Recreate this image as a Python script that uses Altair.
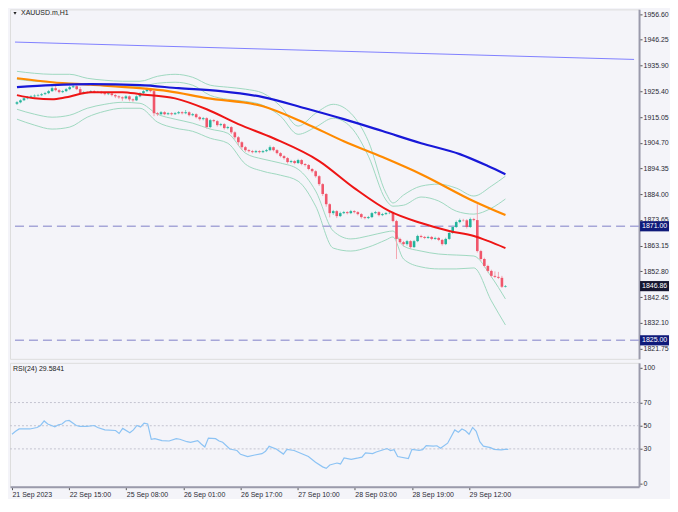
import altair as alt
import pandas as pd

# ---------------- data ----------------
bar_open = [1920.4,1921.0,1921.8,1922.6,1923.0,1923.4,1923.7,1923.9,1924.3,1924.7,
1925.5,1926.7,1925.9,1925.1,1925.5,1926.3,1927.1,1927.5,1926.3,1924.7,
1925.1,1925.0,1925.5,1925.1,1925.2,1924.7,1924.3,1924.6,1923.9,1923.4,
1923.0,1922.6,1923.4,1922.2,1921.8,1923.4,1924.7,1925.5,1926.3,1925.5,
1916.6,1916.2,1917.0,1916.2,1916.6,1916.2,1916.6,1917.0,1916.6,1917.0,
1915.8,1916.2,1915.0,1914.2,1914.6,1911.0,1913.8,1913.4,1911.8,1912.2,
1910.6,1911.0,1908.9,1906.9,1904.9,1902.9,1901.7,1901.3,1900.9,1901.3,
1900.9,1901.3,1901.7,1902.9,1901.7,1900.5,1899.3,1898.5,1896.9,1897.3,
1896.5,1897.7,1896.1,1895.7,1894.1,1893.2,1891.2,1888.0,1884.0,1879.9,
1876.3,1877.1,1875.1,1876.3,1876.7,1876.3,1877.1,1876.7,1875.9,1874.7,
1874.3,1874.7,1876.3,1876.7,1875.5,1875.9,1876.3,1876.4,1873.1,1865.9,
1864.6,1863.8,1865.0,1862.6,1865.0,1867.1,1866.7,1866.3,1866.7,1865.9,
1866.3,1865.5,1863.8,1865.9,1868.3,1870.7,1872.7,1873.5,1873.4,1870.7,
1873.9,1873.5,1861.0,1857.8,1855.0,1853.0,1851.0,1850.6,1850.2,1846.6]

bar_close = [1921.0,1921.8,1922.6,1923.0,1923.4,1923.7,1923.9,1924.3,1924.7,1925.5,
1926.7,1925.9,1925.1,1925.5,1926.3,1927.1,1927.5,1926.3,1924.7,1925.1,
1925.0,1925.5,1925.1,1925.2,1924.7,1924.3,1924.6,1923.9,1923.4,1923.0,
1922.6,1923.4,1922.2,1921.8,1923.4,1924.7,1925.5,1926.3,1925.5,1916.6,
1916.2,1917.0,1916.2,1916.6,1916.2,1916.6,1917.0,1916.6,1917.0,1915.8,
1916.2,1915.0,1914.2,1914.6,1911.0,1913.8,1913.4,1911.8,1912.2,1910.6,
1911.0,1908.9,1906.9,1904.9,1902.9,1901.7,1901.3,1900.9,1901.3,1900.9,
1901.3,1901.7,1902.9,1901.7,1900.5,1899.3,1898.5,1896.9,1897.3,1896.5,
1897.7,1896.1,1895.7,1894.1,1893.2,1891.2,1888.0,1884.0,1879.9,1876.3,
1877.1,1875.1,1876.3,1876.7,1876.3,1877.1,1876.7,1875.9,1874.7,1874.3,
1874.7,1876.3,1876.7,1875.5,1875.9,1876.3,1876.4,1873.1,1865.9,1864.6,
1863.8,1865.0,1862.6,1865.0,1867.1,1866.7,1866.3,1866.7,1865.9,1866.3,
1865.5,1863.8,1865.9,1868.3,1870.7,1872.7,1873.5,1873.4,1870.7,1873.9,
1873.5,1861.0,1857.8,1855.0,1853.0,1851.0,1850.6,1850.2,1846.6,1846.86]

bar_high = [1921.5,1922.2,1923.0,1923.5,1923.9,1924.2,1924.4,1924.8,1925.2,1926.0,
1927.4,1928.3,1926.4,1926.0,1926.8,1927.6,1928.4,1927.9,1927.2,1925.6,
1925.5,1925.9,1925.9,1925.6,1925.6,1925.1,1925.0,1925.0,1924.3,1923.8,
1923.4,1923.9,1923.8,1922.6,1923.8,1925.1,1925.9,1926.9,1926.8,1926.0,
1917.1,1917.5,1917.4,1917.0,1917.0,1917.1,1917.5,1917.4,1917.9,1917.4,
1916.7,1916.6,1915.4,1915.1,1915.0,1914.3,1914.2,1913.8,1912.7,1912.6,
1911.5,1911.4,1909.3,1907.4,1905.3,1903.4,1902.1,1901.8,1901.8,1901.7,
1901.8,1902.2,1903.6,1903.2,1902.1,1900.9,1899.7,1898.9,1897.8,1897.7,
1898.2,1898.1,1896.5,1896.1,1894.5,1893.6,1891.6,1888.4,1884.4,1880.3,
1877.6,1877.5,1876.9,1877.2,1877.1,1877.6,1877.5,1877.1,1876.3,1875.1,
1875.2,1876.8,1877.2,1877.1,1876.4,1876.8,1876.9,1876.9,1873.6,1866.4,
1865.1,1865.5,1865.4,1865.5,1867.6,1867.6,1867.1,1867.2,1867.1,1866.8,
1866.7,1865.9,1866.4,1868.8,1871.2,1873.3,1874.1,1874.0,1873.9,1874.5,
1874.4,1879.9,1861.5,1858.3,1855.5,1853.5,1852.8,1852.6,1851.0,1847.3]

bar_low = [1919.9,1920.6,1921.5,1922.2,1922.6,1923.0,1923.3,1923.5,1923.9,1924.3,
1925.2,1925.4,1924.6,1924.7,1925.1,1925.9,1926.8,1925.9,1924.2,1924.3,
1924.6,1924.7,1924.7,1924.8,1924.3,1923.8,1923.9,1923.4,1922.7,1922.4,
1921.6,1922.2,1921.4,1921.2,1921.5,1923.0,1924.3,1925.1,1925.0,1915.4,
1915.5,1915.8,1915.8,1915.8,1915.7,1915.9,1916.2,1916.1,1916.2,1915.3,
1915.4,1914.5,1913.6,1913.7,1910.4,1910.6,1912.9,1911.2,1911.3,1910.0,
1910.1,1908.2,1906.0,1903.6,1901.9,1901.0,1900.8,1900.4,1900.5,1900.4,
1900.5,1900.9,1901.3,1901.2,1900.0,1898.8,1897.9,1896.3,1896.4,1896.0,
1896.1,1895.6,1895.1,1893.6,1892.6,1890.6,1887.3,1883.2,1878.9,1874.6,
1875.6,1874.3,1874.7,1875.9,1875.8,1875.9,1876.2,1875.4,1874.1,1873.8,
1873.9,1874.3,1875.9,1875.0,1875.1,1875.5,1875.9,1872.6,1857.8,1864.0,
1863.0,1863.2,1862.0,1862.2,1864.6,1866.2,1865.8,1865.9,1865.4,1865.5,
1865.0,1863.2,1863.4,1865.5,1867.9,1870.3,1872.2,1872.9,1870.1,1870.3,
1873.0,1860.4,1857.1,1854.4,1852.4,1850.4,1850.1,1849.7,1846.1,1846.3]

ma_blue_idx = [0, 10, 21, 35, 46, 58, 70, 82, 93, 104, 115, 126, 134, 139]
ma_blue = [1927.1, 1927.9, 1928.3, 1927.9, 1926.7, 1925.5, 1923.1, 1918.6, 1914.2,
           1909.4, 1904.5, 1900.1, 1895.3, 1892.0]

ma_orange_idx = [0, 10, 21, 35, 43, 54, 70, 82, 93, 104, 115, 130, 139]
ma_orange = [1930.7, 1929.1, 1928.1, 1926.7, 1925.5, 1922.7, 1919.4, 1912.6, 1905.3,
             1898.9, 1892.0, 1881.1, 1875.5]

ma_red_idx = [0, 5, 10, 14, 21, 30, 35, 45, 54, 63, 73, 86, 96, 106, 115, 123, 130, 134, 139]
ma_red = [1923.9, 1922.6, 1922.2, 1923.0, 1925.1, 1925.1, 1924.3, 1922.6, 1918.2, 1912.2,
          1906.5, 1897.3, 1886.4, 1877.1, 1872.3, 1869.1, 1867.1, 1865.1, 1862.2]

bb_idx = [0, 5, 10, 15, 20, 25, 30, 35, 40, 45, 50, 55, 60, 65, 70, 75, 80, 85, 90, 95,
          100, 105, 107, 110, 115, 120, 125, 130, 135, 139]
bb_upper_outer = [1933.5, 1932.7, 1932.3, 1932.3, 1930.7, 1929.9, 1929.5, 1929.5, 1931.5, 1932.3,
                  1931.1, 1927.9, 1927.1, 1926.3, 1924.7, 1919.4, 1911.4, 1916.6, 1920.2, 1916.6,
                  1905.3, 1884.4, 1880.4, 1883.6, 1887.2, 1888.0, 1886.4, 1883.2, 1887.2, 1891.2]
bb_upper_inner = [1930.3, 1929.5, 1929.1, 1928.7, 1928.3, 1927.9, 1927.5, 1927.5, 1928.7, 1929.1,
                  1927.9, 1923.8, 1922.2, 1921.4, 1919.8, 1915.4, 1908.1, 1911.0, 1914.6, 1911.0,
                  1899.3, 1881.6, 1879.1, 1879.5, 1882.8, 1881.2, 1877.1, 1875.9, 1878.3, 1882.0]
bb_lower_inner = [1918.2, 1916.2, 1915.0, 1915.8, 1918.6, 1920.2, 1921.0, 1920.6, 1916.2, 1914.2,
                  1912.6, 1910.2, 1908.5, 1900.5, 1898.1, 1896.5, 1894.0, 1885.2, 1869.1, 1865.9,
                  1867.1, 1868.7, 1869.1, 1863.0, 1861.0, 1859.8, 1859.4, 1859.0, 1850.6, 1841.7]
bb_lower_outer = [1914.2, 1911.8, 1910.2, 1911.0, 1915.0, 1917.4, 1918.6, 1918.6, 1913.0, 1910.6,
                  1909.3, 1906.5, 1904.5, 1896.1, 1893.2, 1891.6, 1889.2, 1879.1, 1862.2, 1861.0,
                  1862.6, 1865.5, 1866.7, 1857.8, 1854.6, 1853.8, 1853.8, 1854.2, 1840.9, 1831.2]

trend_idx = [-0.56, 175.6]
trend_val = [1945.3, 1938.3]

hline_levels = [1871.0, 1825.0]
price_tags = [1871.0, 1846.86, 1825.0]
price_tag_text = ["1871.00", "1846.86", "1825.00"]
price_tag_bg = ["#0f1a7a", "#161630", "#0f1a7a"]

price_ticks = [1956.60, 1946.25, 1935.90, 1925.40, 1915.05, 1904.70, 1894.35, 1884.00,
               1873.65, 1863.15, 1852.80, 1842.45, 1832.10, 1821.75]

rsi_idx = [0,1,2,5,7,8,9,10,12,13,14,15,16,18,19,21,23,24,26,29,30,31,33,34,35,36,37,38,39,40,
           42,44,46,47,49,50,52,53,54,55,57,58,59,61,63,64,66,68,70,71,72,74,76,77,79,81,83,85,
           87,88,89,91,92,93,95,97,98,99,101,102,104,105,106,107,108,111,112,114,115,116,118,
           119,120,122,124,125,126,127,128,129,130,131,132,134,135,137,138,139]
rsi_val = [42.6,45.2,47.2,47.2,48.5,50.2,54.1,51.5,49.0,50.8,51.5,54.1,54.6,50.2,49.5,49.5,50.2,
           48.5,46.4,45.9,43.3,47.7,43.9,46.4,50.2,48.9,52.3,51.5,38.3,38.8,37.2,36.8,38.8,38.3,
           36.2,35.7,37.2,34.2,31.6,39.3,38.8,36.8,35.7,29.9,28.6,25.3,23.4,24.7,25.9,27.9,32.2,
           29.9,25.5,29.6,28.6,26.0,23.4,18.4,14.5,13.2,16.1,17.8,17.0,22.2,21.0,22.2,22.9,26.5,
           26.0,27.3,29.3,30.3,28.6,29.3,23.4,21.7,29.6,28.8,29.4,32.9,32.4,32.7,30.6,34.9,46.4,
           44.4,47.2,45.7,42.6,48.5,45.2,36.2,32.4,31.1,29.6,29.1,29.6,29.58]
rsi_levels = [30, 50, 70]
rsi_ticks = [0, 30, 50, 70, 100]

date_ticks = [0, 16, 32, 48, 64, 80, 96, 112, 128]
date_labels = ["21 Sep 2023", "22 Sep 15:00", "25 Sep 08:00", "26 Sep 01:00", "26 Sep 17:00",
               "27 Sep 10:00", "28 Sep 03:00", "28 Sep 19:00", "29 Sep 12:00"]

# ---------------- styling ----------------
FONT = "Liberation Sans"
BG = "#f4f4f9"
FRAME = "#9a9aab"
UP, DN = "#22b39b", "#f0566b"
UP_W, DN_W = "#86d3c4", "#f4a6b1"
W, H_MAIN, H_RSI = 630, 350, 124

xscale = alt.Scale(domain=[-0.56, 175.6], nice=False, zero=False)
yscale = alt.Scale(domain=[1817.53, 1958.49], nice=False, zero=False)
rscale = alt.Scale(domain=[-2.6, 104.3], nice=False, zero=False)

yaxis = alt.Axis(orient="right", values=price_ticks, format=".2f", title=None, grid=False,
                 labelFontSize=7, labelColor="#2a2a35", tickSize=3, tickColor="#555",
                 labelPadding=1, domainColor=FRAME, domainWidth=2, labelFont=FONT)
raxis = alt.Axis(orient="right", values=rsi_ticks, format="d", title=None, grid=False,
                 labelFontSize=7, labelColor="#2a2a35", tickSize=3, tickColor="#555",
                 labelPadding=1, domainColor=FRAME, domainWidth=2, labelFont=FONT)
expr = " : ".join(f"datum.value == {t} ? '{l}'" for t, l in zip(date_ticks, date_labels)) + " : ''"
xaxis = alt.Axis(values=date_ticks, labelExpr=expr, labelAlign="left", title=None, grid=False,
                 labelFontSize=7, labelColor="#2a2a35", tickSize=3, tickColor="#555",
                 labelPadding=1, domainColor=FRAME, domainWidth=2, labelFont=FONT,
                 labelOverlap=False)

X = alt.X("i:Q", scale=xscale, axis=None)

candles = pd.DataFrame({"i": list(range(len(bar_close))), "open": bar_open, "high": bar_high,
                        "low": bar_low, "close": bar_close})

up_cond = "datum.close >= datum.open"

wicks = alt.Chart(candles).mark_rule(strokeWidth=1).encode(
    x=X, y=alt.Y("low:Q", scale=yscale, axis=yaxis), y2="high:Q",
    color=alt.condition(up_cond, alt.value(UP_W), alt.value(DN_W)))
bodies = alt.Chart(candles).mark_bar(size=2.6).encode(
    x=X, y=alt.Y("open:Q", scale=yscale, axis=yaxis), y2="close:Q",
    color=alt.condition(up_cond, alt.value(UP), alt.value(DN)))


def line_layer(idx, vals, color, width, interp="monotone"):
    df = pd.DataFrame({"i": idx, "v": vals})
    return alt.Chart(df).mark_line(color=color, strokeWidth=width, interpolate=interp, clip=True).encode(
        x=X, y=alt.Y("v:Q", scale=yscale, axis=yaxis))


band_layers = [line_layer(bb_idx, s, "#9fd8c0", 1)
               for s in (bb_upper_outer, bb_upper_inner, bb_lower_inner, bb_lower_outer)]

trend = line_layer(trend_idx, trend_val, "#7f7fff", 1, "linear")
blue = line_layer(ma_blue_idx, ma_blue, "#1818d8", 2.2)
orange = line_layer(ma_orange_idx, ma_orange, "#ff8a00", 2.2)
red = line_layer(ma_red_idx, ma_red, "#ee1515", 2)

hlines = alt.Chart(pd.DataFrame({"p": hline_levels})).mark_rule(
    color="#a6a6d8", strokeWidth=1.6, strokeDash=[9, 5]).encode(
    y=alt.Y("p:Q", scale=yscale, axis=yaxis))

tags = pd.DataFrame({"p": price_tags, "t": price_tag_text, "bg": price_tag_bg})
tag_box = alt.Chart(tags).transform_calculate(top="datum.p + 2.05", bot="datum.p - 2.05").mark_rect().encode(
    x=alt.value(W + 1), x2=alt.value(W + 30),
    y=alt.Y("top:Q", scale=yscale, axis=yaxis), y2="bot:Q",
    color=alt.Color("bg:N", scale=None))
tag_txt = alt.Chart(tags).mark_text(align="left", baseline="middle", fontSize=7, color="white",
                                    font=FONT).encode(
    x=alt.value(W + 3), y=alt.Y("p:Q", scale=yscale, axis=yaxis), text="t:N")

title_df = pd.DataFrame({"t": ["XAUUSD.m,H1"]})
title_txt = alt.Chart(title_df).mark_text(align="left", baseline="middle", fontSize=7,
                                          color="#222", font=FONT).encode(
    x=alt.value(11), y=alt.value(4), text="t:N")
title_tri = alt.Chart(title_df).mark_point(shape="triangle-down", filled=True, size=10,
                                           color="#222", opacity=1).encode(
    x=alt.value(5), y=alt.value(4))

main = alt.layer(trend, *band_layers, hlines, wicks, bodies, orange, blue, red,
                 tag_box, tag_txt, title_tri, title_txt).properties(width=W, height=H_MAIN)

# ---------------- RSI panel ----------------
XR = alt.X("i:Q", scale=xscale, axis=xaxis)
rsi_grid = alt.Chart(pd.DataFrame({"lv": rsi_levels})).mark_rule(
    color="#c4c4d0", strokeWidth=1, strokeDash=[2, 2]).encode(
    y=alt.Y("lv:Q", scale=rscale, axis=raxis))
rsi_line = alt.Chart(pd.DataFrame({"i": rsi_idx, "v": rsi_val})).mark_line(
    color="#8cc3f4", strokeWidth=1.2).encode(x=XR, y=alt.Y("v:Q", scale=rscale, axis=raxis))
rsi_title = alt.Chart(pd.DataFrame({"t": ["RSI(24) 29.5841"]})).mark_text(
    align="left", baseline="middle", fontSize=7, color="#222", font=FONT).encode(
    x=alt.value(3), y=alt.value(6), text="t:N")

rsi = alt.layer(rsi_grid, rsi_line, rsi_title).properties(width=W, height=H_RSI)

chart = alt.vconcat(main, rsi, spacing=2).properties(
    padding=0, background=BG
).configure_view(stroke=FRAME, strokeWidth=1.5, fill=BG).configure(font=FONT)

chart.save("out.html", embed_options={"renderer": "svg", "actions": False})
